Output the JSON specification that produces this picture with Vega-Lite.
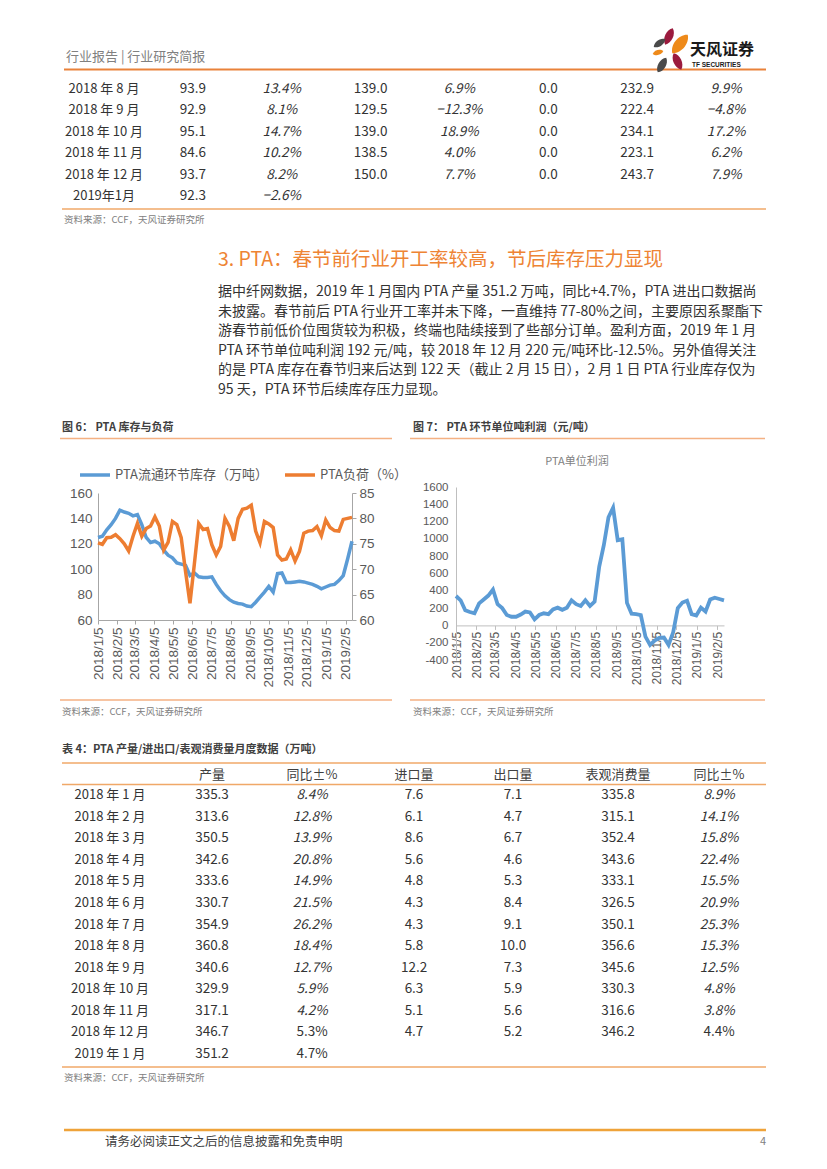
{
  "$schema": "https://vega.github.io/schema/vega-lite/v6.json",
  "padding": 0,
  "background": "white",
  "spacing": 0,
  "bounds": "flush",
  "config": {
    "view": {"stroke": null},
    "font": "Noto Sans CJK SC",
    "text": {"font": "Noto Sans CJK SC"}
  },
  "resolve": {"scale": {"color": "independent"}, "legend": {"color": "independent"}},
  "datasets": {
    "tableTop": [
      {"m": "2018 年 8 月", "v1": 93.9, "r1": 0.134, "v2": 139.0, "r2": 0.069, "v3": 0.0, "v4": 232.9, "r4": 0.099},
      {"m": "2018 年 9 月", "v1": 92.9, "r1": 0.081, "v2": 129.5, "r2": -0.123, "v3": 0.0, "v4": 222.4, "r4": -0.048},
      {"m": "2018 年 10 月", "v1": 95.1, "r1": 0.147, "v2": 139.0, "r2": 0.189, "v3": 0.0, "v4": 234.1, "r4": 0.172},
      {"m": "2018 年 11 月", "v1": 84.6, "r1": 0.102, "v2": 138.5, "r2": 0.040, "v3": 0.0, "v4": 223.1, "r4": 0.062},
      {"m": "2018 年 12 月", "v1": 93.7, "r1": 0.082, "v2": 150.0, "r2": 0.077, "v3": 0.0, "v4": 243.7, "r4": 0.079},
      {"m": "2019年1月", "v1": 92.3, "r1": -0.026}
    ],
    "table4": [
      {"m": "2018 年 1 月", "prod": 335.3, "prodYoy": 0.084, "imp": 7.6, "exp": 7.1, "cons": 335.8, "consYoy": 0.089},
      {"m": "2018 年 2 月", "prod": 313.6, "prodYoy": 0.128, "imp": 6.1, "exp": 4.7, "cons": 315.1, "consYoy": 0.141},
      {"m": "2018 年 3 月", "prod": 350.5, "prodYoy": 0.139, "imp": 8.6, "exp": 6.7, "cons": 352.4, "consYoy": 0.158},
      {"m": "2018 年 4 月", "prod": 342.6, "prodYoy": 0.208, "imp": 5.6, "exp": 4.6, "cons": 343.6, "consYoy": 0.224},
      {"m": "2018 年 5 月", "prod": 333.6, "prodYoy": 0.149, "imp": 4.8, "exp": 5.3, "cons": 333.1, "consYoy": 0.155},
      {"m": "2018 年 6 月", "prod": 330.7, "prodYoy": 0.215, "imp": 4.3, "exp": 8.4, "cons": 326.5, "consYoy": 0.209},
      {"m": "2018 年 7 月", "prod": 354.9, "prodYoy": 0.262, "imp": 4.3, "exp": 9.1, "cons": 350.1, "consYoy": 0.253},
      {"m": "2018 年 8 月", "prod": 360.8, "prodYoy": 0.184, "imp": 5.8, "exp": 10.0, "cons": 356.6, "consYoy": 0.153},
      {"m": "2018 年 9 月", "prod": 340.6, "prodYoy": 0.127, "imp": 12.2, "exp": 7.3, "cons": 345.6, "consYoy": 0.125},
      {"m": "2018 年 10 月", "prod": 329.9, "prodYoy": 0.059, "imp": 6.3, "exp": 5.9, "cons": 330.3, "consYoy": 0.048},
      {"m": "2018 年 11 月", "prod": 317.1, "prodYoy": 0.042, "imp": 5.1, "exp": 5.6, "cons": 316.6, "consYoy": 0.038},
      {"m": "2018 年 12 月", "prod": 346.7, "prodYoy": 0.053, "imp": 4.7, "exp": 5.2, "cons": 346.2, "consYoy": 0.044},
      {"m": "2019 年 1 月", "prod": 351.2, "prodYoy": 0.047}
    ],
    "pta6": [
      {"date": "2018/01/05", "inventory": 125, "load": 75.2},
      {"date": "2018/01/12", "inventory": 126, "load": 74.9},
      {"date": "2018/01/19", "inventory": 131, "load": 76.2},
      {"date": "2018/01/26", "inventory": 135, "load": 76.3},
      {"date": "2018/02/02", "inventory": 140, "load": 76.8},
      {"date": "2018/02/09", "inventory": 146.5, "load": 76.0},
      {"date": "2018/02/16", "inventory": 145, "load": 75.0},
      {"date": "2018/02/23", "inventory": 144, "load": 73.6},
      {"date": "2018/03/02", "inventory": 142, "load": 76.5},
      {"date": "2018/03/09", "inventory": 143, "load": 79.0},
      {"date": "2018/03/16", "inventory": 135, "load": 76.5},
      {"date": "2018/03/23", "inventory": 125, "load": 78.0},
      {"date": "2018/03/30", "inventory": 121, "load": 78.5},
      {"date": "2018/04/06", "inventory": 122, "load": 80.3},
      {"date": "2018/04/13", "inventory": 120, "load": 78.5},
      {"date": "2018/04/20", "inventory": 115, "load": 73.8},
      {"date": "2018/04/27", "inventory": 111, "load": 75.3},
      {"date": "2018/05/04", "inventory": 109, "load": 79.4},
      {"date": "2018/05/11", "inventory": 105, "load": 78.8},
      {"date": "2018/05/18", "inventory": 104, "load": 76.2},
      {"date": "2018/05/25", "inventory": 103, "load": 69.5},
      {"date": "2018/06/01", "inventory": 95, "load": 63.3},
      {"date": "2018/06/08", "inventory": 97, "load": 71.0},
      {"date": "2018/06/15", "inventory": 94, "load": 79.0},
      {"date": "2018/06/22", "inventory": 93.5, "load": 77.8},
      {"date": "2018/06/29", "inventory": 93.5, "load": 78.0},
      {"date": "2018/07/06", "inventory": 94, "load": 74.8},
      {"date": "2018/07/13", "inventory": 88, "load": 72.8},
      {"date": "2018/07/20", "inventory": 83, "load": 74.5},
      {"date": "2018/07/27", "inventory": 79, "load": 80.0},
      {"date": "2018/08/03", "inventory": 76, "load": 78.4},
      {"date": "2018/08/10", "inventory": 74, "load": 75.6},
      {"date": "2018/08/17", "inventory": 73, "load": 80.0},
      {"date": "2018/08/24", "inventory": 72.5, "load": 81.8},
      {"date": "2018/08/31", "inventory": 71, "load": 82.0},
      {"date": "2018/09/07", "inventory": 70.5, "load": 82.6},
      {"date": "2018/09/14", "inventory": 74, "load": 77.5},
      {"date": "2018/09/21", "inventory": 78, "load": 75.2},
      {"date": "2018/09/28", "inventory": 82, "load": 79.4},
      {"date": "2018/10/05", "inventory": 86.5, "load": 78.9},
      {"date": "2018/10/12", "inventory": 82, "load": 78.2},
      {"date": "2018/10/19", "inventory": 96.5, "load": 72.8},
      {"date": "2018/10/26", "inventory": 97, "load": 71.8},
      {"date": "2018/11/02", "inventory": 89.5, "load": 72.0},
      {"date": "2018/11/09", "inventory": 89.5, "load": 73.8},
      {"date": "2018/11/16", "inventory": 90, "load": 71.6},
      {"date": "2018/11/23", "inventory": 90.5, "load": 73.5},
      {"date": "2018/11/30", "inventory": 90, "load": 77.1},
      {"date": "2018/12/07", "inventory": 89, "load": 77.5},
      {"date": "2018/12/14", "inventory": 88, "load": 77.6},
      {"date": "2018/12/21", "inventory": 86.5, "load": 78.4},
      {"date": "2018/12/28", "inventory": 84.5, "load": 76.6},
      {"date": "2019/01/04", "inventory": 86, "load": 79.7},
      {"date": "2019/01/11", "inventory": 87.5, "load": 78.2},
      {"date": "2019/01/18", "inventory": 88, "load": 77.6},
      {"date": "2019/01/25", "inventory": 91, "load": 77.5},
      {"date": "2019/02/01", "inventory": 95, "load": 79.8},
      {"date": "2019/02/08", "inventory": 108, "load": 80.0},
      {"date": "2019/02/15", "inventory": 122, "load": 80.2}
    ],
    "pta7": [
      {"date": "2018/01/05", "profit": 340},
      {"date": "2018/01/12", "profit": 290},
      {"date": "2018/01/19", "profit": 175},
      {"date": "2018/01/26", "profit": 155},
      {"date": "2018/02/02", "profit": 140},
      {"date": "2018/02/09", "profit": 255},
      {"date": "2018/02/16", "profit": 300},
      {"date": "2018/02/23", "profit": 345},
      {"date": "2018/03/02", "profit": 415},
      {"date": "2018/03/09", "profit": 245},
      {"date": "2018/03/16", "profit": 200},
      {"date": "2018/03/23", "profit": 120},
      {"date": "2018/03/30", "profit": 100},
      {"date": "2018/04/06", "profit": 100},
      {"date": "2018/04/13", "profit": 125},
      {"date": "2018/04/20", "profit": 160},
      {"date": "2018/04/27", "profit": 150},
      {"date": "2018/05/04", "profit": 70},
      {"date": "2018/05/11", "profit": 120},
      {"date": "2018/05/18", "profit": 140},
      {"date": "2018/05/25", "profit": 130},
      {"date": "2018/06/01", "profit": 185},
      {"date": "2018/06/08", "profit": 205},
      {"date": "2018/06/15", "profit": 180},
      {"date": "2018/06/22", "profit": 205},
      {"date": "2018/06/29", "profit": 290},
      {"date": "2018/07/06", "profit": 245},
      {"date": "2018/07/13", "profit": 225},
      {"date": "2018/07/20", "profit": 290},
      {"date": "2018/07/27", "profit": 225},
      {"date": "2018/08/03", "profit": 275},
      {"date": "2018/08/10", "profit": 680},
      {"date": "2018/08/17", "profit": 930},
      {"date": "2018/08/24", "profit": 1250},
      {"date": "2018/08/31", "profit": 1360},
      {"date": "2018/09/07", "profit": 985},
      {"date": "2018/09/14", "profit": 995},
      {"date": "2018/09/21", "profit": 260},
      {"date": "2018/09/28", "profit": 135},
      {"date": "2018/10/05", "profit": 130},
      {"date": "2018/10/12", "profit": 120},
      {"date": "2018/10/19", "profit": -130},
      {"date": "2018/10/26", "profit": -225},
      {"date": "2018/11/02", "profit": -175},
      {"date": "2018/11/09", "profit": -145},
      {"date": "2018/11/16", "profit": -140},
      {"date": "2018/11/23", "profit": -225},
      {"date": "2018/11/30", "profit": -80},
      {"date": "2018/12/07", "profit": 200},
      {"date": "2018/12/14", "profit": 265},
      {"date": "2018/12/21", "profit": 285},
      {"date": "2018/12/28", "profit": 130},
      {"date": "2019/01/04", "profit": 115},
      {"date": "2019/01/11", "profit": 205},
      {"date": "2019/01/18", "profit": 160},
      {"date": "2019/01/25", "profit": 300},
      {"date": "2019/02/01", "profit": 320},
      {"date": "2019/02/08", "profit": 305},
      {"date": "2019/02/15", "profit": 290}
    ]
  },
  "vconcat": [
    {
      "width": 827,
      "height": 75,
      "layer": [
        {"data": {"values": [{"t": "行业报告  |  行业研究简报"}]}, "mark": {"type": "text", "align": "left", "baseline": "middle", "fontSize": 13, "color": "#808080"}, "encoding": {"text": {"field": "t"}, "x": {"value": 66}, "y": {"value": 57}}},
        {"data": {"values": [{}]}, "mark": {"type": "rule", "color": "#E9823A", "strokeWidth": 2}, "encoding": {"x": {"value": 64}, "x2": {"value": 766}, "y": {"value": 69.5}}},
        {"data": {"values": [{}]}, "mark": {"type": "point", "shape": "M0,-1C0.6,-0.55 0.6,0.55 0,1C-0.6,0.55 -0.6,-0.55 0,-1Z", "filled": true, "opacity": 1, "color": "#9B1B3E", "size": 324, "angle": 25}, "encoding": {"x": {"value": 669}, "y": {"value": 36.5}}},
        {"data": {"values": [{}]}, "mark": {"type": "point", "shape": "M0,-1C0.6,-0.55 0.6,0.55 0,1C-0.6,0.55 -0.6,-0.55 0,-1Z", "filled": true, "opacity": 1, "color": "#EE8A1A", "size": 576, "angle": 40}, "encoding": {"x": {"value": 680}, "y": {"value": 44}}},
        {"data": {"values": [{}]}, "mark": {"type": "point", "shape": "M0,-1C0.6,-0.55 0.6,0.55 0,1C-0.6,0.55 -0.6,-0.55 0,-1Z", "filled": true, "opacity": 1, "color": "#4A4A4A", "size": 196, "angle": 55}, "encoding": {"x": {"value": 659.5}, "y": {"value": 43}}},
        {"data": {"values": [{}]}, "mark": {"type": "point", "shape": "M0,-1C0.6,-0.55 0.6,0.55 0,1C-0.6,0.55 -0.6,-0.55 0,-1Z", "filled": true, "opacity": 1, "color": "#EE8A1A", "size": 121, "angle": 75}, "encoding": {"x": {"value": 658}, "y": {"value": 52.5}}},
        {"data": {"values": [{}]}, "mark": {"type": "point", "shape": "M0,-1C0.6,-0.55 0.6,0.55 0,1C-0.6,0.55 -0.6,-0.55 0,-1Z", "filled": true, "opacity": 1, "color": "#9B1B3E", "size": 324, "angle": -25}, "encoding": {"x": {"value": 677.5}, "y": {"value": 61.5}}},
        {"data": {"values": [{}]}, "mark": {"type": "point", "shape": "M0,-1C0.6,-0.55 0.6,0.55 0,1C-0.6,0.55 -0.6,-0.55 0,-1Z", "filled": true, "opacity": 1, "color": "#4A4A4A", "size": 289, "angle": 30}, "encoding": {"x": {"value": 662}, "y": {"value": 65}}},
        {"data": {"values": [{"t": "天风证券"}]}, "mark": {"type": "text", "align": "left", "baseline": "middle", "fontSize": 16, "fontWeight": "bold", "color": "#1A1A1A"}, "encoding": {"text": {"field": "t"}, "x": {"value": 690}, "y": {"value": 50}}},
        {"data": {"values": [{"t": "TF SECURITIES"}]}, "mark": {"type": "text", "align": "left", "baseline": "middle", "fontSize": 6.5, "fontWeight": "bold", "color": "#1A1A1A", "font": "Liberation Sans Narrow, Liberation Sans"}, "encoding": {"text": {"field": "t"}, "x": {"value": 692}, "y": {"value": 64.5}}}
      ]
    },
    {
      "width": 827,
      "height": 155,
      "data": {"name": "tableTop"},
      "layer": [
        {"mark": {"type": "text", "baseline": "middle", "fontSize": 13, "color": "#333333", "font": "Liberation Sans Narrow, Noto Sans CJK SC"}, "encoding": {"text": {"field": "m"}, "x": {"datum": 0, "type": "quantitative", "scale": {"domain": [0, 7], "range": [104, 726], "zero": false, "nice": false}, "axis": null}, "y": {"field": "m", "type": "ordinal", "scale": {"type": "point", "domain": ["2018 年 8 月", "2018 年 9 月", "2018 年 10 月", "2018 年 11 月", "2018 年 12 月", "2019年1月"], "range": [13.5, 121], "padding": 0}, "axis": null}}},
        {"transform": [{"filter": "isValid(datum.v1)"}], "mark": {"type": "text", "baseline": "middle", "fontSize": 13.5, "color": "#333333", "font": "Liberation Sans Narrow, Noto Sans CJK SC"}, "encoding": {"text": {"field": "v1", "type": "quantitative", "format": ".1f"}, "x": {"datum": 1, "type": "quantitative"}, "y": {"field": "m", "type": "ordinal"}}},
        {"transform": [{"filter": "isValid(datum.r1)"}], "mark": {"type": "text", "baseline": "middle", "fontSize": 13.5, "fontStyle": "italic", "color": "#333333", "font": "Liberation Sans Narrow, Noto Sans CJK SC"}, "encoding": {"text": {"field": "r1", "type": "quantitative", "format": ".1%"}, "x": {"datum": 2, "type": "quantitative"}, "y": {"field": "m", "type": "ordinal"}}},
        {"transform": [{"filter": "isValid(datum.v2)"}], "mark": {"type": "text", "baseline": "middle", "fontSize": 13.5, "color": "#333333", "font": "Liberation Sans Narrow, Noto Sans CJK SC"}, "encoding": {"text": {"field": "v2", "type": "quantitative", "format": ".1f"}, "x": {"datum": 3, "type": "quantitative"}, "y": {"field": "m", "type": "ordinal"}}},
        {"transform": [{"filter": "isValid(datum.r2)"}], "mark": {"type": "text", "baseline": "middle", "fontSize": 13.5, "fontStyle": "italic", "color": "#333333", "font": "Liberation Sans Narrow, Noto Sans CJK SC"}, "encoding": {"text": {"field": "r2", "type": "quantitative", "format": ".1%"}, "x": {"datum": 4, "type": "quantitative"}, "y": {"field": "m", "type": "ordinal"}}},
        {"transform": [{"filter": "isValid(datum.v3)"}], "mark": {"type": "text", "baseline": "middle", "fontSize": 13.5, "color": "#333333", "font": "Liberation Sans Narrow, Noto Sans CJK SC"}, "encoding": {"text": {"field": "v3", "type": "quantitative", "format": ".1f"}, "x": {"datum": 5, "type": "quantitative"}, "y": {"field": "m", "type": "ordinal"}}},
        {"transform": [{"filter": "isValid(datum.v4)"}], "mark": {"type": "text", "baseline": "middle", "fontSize": 13.5, "color": "#333333", "font": "Liberation Sans Narrow, Noto Sans CJK SC"}, "encoding": {"text": {"field": "v4", "type": "quantitative", "format": ".1f"}, "x": {"datum": 6, "type": "quantitative"}, "y": {"field": "m", "type": "ordinal"}}},
        {"transform": [{"filter": "isValid(datum.r4)"}], "mark": {"type": "text", "baseline": "middle", "fontSize": 13.5, "fontStyle": "italic", "color": "#333333", "font": "Liberation Sans Narrow, Noto Sans CJK SC"}, "encoding": {"text": {"field": "r4", "type": "quantitative", "format": ".1%"}, "x": {"datum": 7, "type": "quantitative"}, "y": {"field": "m", "type": "ordinal"}}},
        {"data": {"values": [{}]}, "mark": {"type": "rule", "color": "#F0A868", "strokeWidth": 1.5}, "encoding": {"x": {"value": 62}, "x2": {"value": 766}, "y": {"value": 134}}},
        {"data": {"values": [{"t": "资料来源：CCF，天风证券研究所"}]}, "mark": {"type": "text", "align": "left", "baseline": "middle", "fontSize": 9.5, "color": "#808080"}, "encoding": {"text": {"field": "t"}, "x": {"value": 64}, "y": {"value": 145}}}
      ]
    },
    {
      "width": 827,
      "height": 180,
      "layer": [
        {"data": {"values": [{"t": "3. PTA：春节前行业开工率较高，节后库存压力显现"}]}, "mark": {"type": "text", "align": "left", "baseline": "middle", "fontSize": 19.5, "color": "#EE8434"}, "encoding": {"text": {"field": "t"}, "x": {"value": 218}, "y": {"value": 30}}},
        {"data": {"values": [
          {"t": "据中纤网数据，2019 年 1 月国内 PTA 产量 351.2 万吨，同比+4.7%，PTA 进出口数据尚"},
          {"t": "未披露。春节前后 PTA 行业开工率并未下降，一直维持 77-80%之间，主要原因系聚酯下"},
          {"t": "游春节前低价位囤货较为积极，终端也陆续接到了些部分订单。盈利方面，2019 年 1 月"},
          {"t": "PTA 环节单位吨利润 192 元/吨，较 2018 年 12 月 220 元/吨环比-12.5%。另外值得关注"},
          {"t": "的是 PTA 库存在春节归来后达到 122 天（截止 2 月 15 日），2 月 1 日 PTA 行业库存仅为"},
          {"t": "95 天，PTA 环节后续库存压力显现。"}
        ]}, "mark": {"type": "text", "align": "left", "baseline": "middle", "fontSize": 14, "color": "#333333"}, "encoding": {"text": {"field": "t"}, "x": {"value": 218}, "y": {"field": "t", "type": "ordinal", "sort": null, "scale": {"type": "point", "range": [62, 160], "padding": 0}, "axis": null}}}
      ]
    },
    {
      "width": 827,
      "height": 310,
      "resolve": {"scale": {"x": "independent", "y": "independent"}},
      "layer": [
        {"data": {"values": [{"t": "图 6：  PTA 库存与负荷"}]}, "mark": {"type": "text", "align": "left", "baseline": "middle", "fontSize": 11, "fontWeight": "bold", "color": "#404040"}, "encoding": {"text": {"field": "t"}, "x": {"value": 62}, "y": {"value": 18}}},
        {"data": {"values": [{}]}, "mark": {"type": "rule", "color": "#F4B183", "strokeWidth": 1.5}, "encoding": {"x": {"value": 60}, "x2": {"value": 392}, "y": {"value": 28.5}}},
        {
          "data": {"name": "pta6"},
          "mark": {"type": "line", "strokeWidth": 3.5},
          "encoding": {
            "x": {"field": "date", "type": "temporal", "scale": {"domain": [{"year": 2018, "month": 1, "date": 5}, {"year": 2019, "month": 2, "date": 15}], "range": [98, 352]}, "axis": {"orient": "bottom", "values": [{"year": 2018, "month": 1, "date": 5}, {"year": 2018, "month": 2, "date": 5}, {"year": 2018, "month": 3, "date": 5}, {"year": 2018, "month": 4, "date": 5}, {"year": 2018, "month": 5, "date": 5}, {"year": 2018, "month": 6, "date": 5}, {"year": 2018, "month": 7, "date": 5}, {"year": 2018, "month": 8, "date": 5}, {"year": 2018, "month": 9, "date": 5}, {"year": 2018, "month": 10, "date": 5}, {"year": 2018, "month": 11, "date": 5}, {"year": 2018, "month": 12, "date": 5}, {"year": 2019, "month": 1, "date": 5}, {"year": 2019, "month": 2, "date": 5}], "format": "%Y/%-m/%-d", "labelAngle": -90, "offset": -100, "title": null, "grid": false, "domainColor": "#a6a6a6", "tickColor": "#a6a6a6", "tickSize": 4, "labelColor": "#595959", "labelFontSize": 13.5, "labelFont": "Liberation Sans", "labelPadding": 3, "labelOverlap": false, "labelFlush": false, "labelBound": false}},
            "y": {"field": "inventory", "type": "quantitative", "scale": {"domain": [60, 160], "range": [210, 83], "zero": false, "nice": false}, "axis": {"orient": "left", "offset": -98, "values": [60, 80, 100, 120, 140, 160], "title": null, "grid": false, "ticks": false, "domainColor": "#a6a6a6", "labelColor": "#595959", "labelFontSize": 13.5, "labelFont": "Liberation Sans Narrow, Liberation Sans", "labelPadding": 6}},
            "color": {"datum": "PTA流通环节库存（万吨）", "type": "nominal", "scale": {"domain": ["PTA流通环节库存（万吨）", "PTA负荷（%）"], "range": ["#5B9BD5", "#ED7D31"]}, "legend": {"orient": "none", "legendX": 78, "legendY": 48, "direction": "horizontal", "title": null, "symbolType": "stroke", "symbolStrokeWidth": 3.5, "symbolSize": 900, "labelFontSize": 13, "labelColor": "#595959", "labelFont": "Noto Sans CJK SC", "columnPadding": 10, "labelOffset": 3}}
          }
        },
        {
          "data": {"name": "pta6"},
          "mark": {"type": "line", "strokeWidth": 3.5},
          "encoding": {
            "x": {"field": "date", "type": "temporal", "scale": {"domain": [{"year": 2018, "month": 1, "date": 5}, {"year": 2019, "month": 2, "date": 15}], "range": [98, 352]}, "axis": null},
            "y": {"field": "load", "type": "quantitative", "scale": {"domain": [60, 85], "range": [210, 83], "zero": false, "nice": false}, "axis": {"orient": "right", "offset": -475, "values": [60, 65, 70, 75, 80, 85], "title": null, "grid": false, "ticks": true, "tickSize": 4, "tickColor": "#a6a6a6", "domainColor": "#a6a6a6", "labelColor": "#595959", "labelFontSize": 13.5, "labelFont": "Liberation Sans Narrow, Liberation Sans", "labelPadding": 3}},
            "color": {"datum": "PTA负荷（%）", "type": "nominal"}
          }
        },
        {"data": {"values": [{}]}, "mark": {"type": "rule", "color": "#F4B183", "strokeWidth": 1.5}, "encoding": {"x": {"value": 60}, "x2": {"value": 392}, "y": {"value": 290}}},
        {"data": {"values": [{"t": "资料来源：CCF，天风证券研究所"}]}, "mark": {"type": "text", "align": "left", "baseline": "middle", "fontSize": 9.5, "color": "#808080"}, "encoding": {"text": {"field": "t"}, "x": {"value": 62}, "y": {"value": 302}}},
        {"data": {"values": [{"t": "图 7：  PTA 环节单位吨利润（元/吨）"}]}, "mark": {"type": "text", "align": "left", "baseline": "middle", "fontSize": 11, "fontWeight": "bold", "color": "#404040"}, "encoding": {"text": {"field": "t"}, "x": {"value": 413}, "y": {"value": 18}}},
        {"data": {"values": [{}]}, "mark": {"type": "rule", "color": "#F4B183", "strokeWidth": 1.5}, "encoding": {"x": {"value": 410}, "x2": {"value": 765}, "y": {"value": 28.5}}},
        {"data": {"values": [{"t": "PTA单位利润"}]}, "mark": {"type": "text", "align": "center", "baseline": "middle", "fontSize": 11, "color": "#7F7F7F"}, "encoding": {"text": {"field": "t"}, "x": {"value": 577}, "y": {"value": 52}}},
        {
          "data": {"name": "pta7"},
          "mark": {"type": "line", "strokeWidth": 3.8, "color": "#5B9BD5"},
          "encoding": {
            "x": {"field": "date", "type": "temporal", "scale": {"domain": [{"year": 2018, "month": 1, "date": 5}, {"year": 2019, "month": 2, "date": 15}], "range": [456, 724]}, "axis": {"orient": "bottom", "values": [{"year": 2018, "month": 1, "date": 5}, {"year": 2018, "month": 2, "date": 5}, {"year": 2018, "month": 3, "date": 5}, {"year": 2018, "month": 4, "date": 5}, {"year": 2018, "month": 5, "date": 5}, {"year": 2018, "month": 6, "date": 5}, {"year": 2018, "month": 7, "date": 5}, {"year": 2018, "month": 8, "date": 5}, {"year": 2018, "month": 9, "date": 5}, {"year": 2018, "month": 10, "date": 5}, {"year": 2018, "month": 11, "date": 5}, {"year": 2018, "month": 12, "date": 5}, {"year": 2019, "month": 1, "date": 5}, {"year": 2019, "month": 2, "date": 5}], "format": "%Y/%-m/%-d", "labelAngle": -90, "offset": -94.6, "title": null, "grid": false, "domainColor": "#bfbfbf", "tickColor": "#bfbfbf", "tickSize": 4, "labelColor": "#595959", "labelFontSize": 12, "labelFont": "Liberation Sans", "labelPadding": 2, "labelOverlap": false, "labelFlush": false, "labelBound": false}},
            "y": {"field": "profit", "type": "quantitative", "scale": {"domain": [-400, 1600], "range": [250, 77], "zero": false, "nice": false}, "axis": {"orient": "left", "offset": -456, "values": [-400, -200, 0, 200, 400, 600, 800, 1000, 1200, 1400, 1600], "format": "d", "labelExpr": "replace(datum.label, '−', '-')", "title": null, "grid": false, "ticks": false, "domainColor": "#bfbfbf", "labelColor": "#595959", "labelFontSize": 11.5, "labelFont": "Liberation Sans", "labelPadding": 8}}
          }
        },
        {"data": {"values": [{}]}, "mark": {"type": "rule", "color": "#F4B183", "strokeWidth": 1.5}, "encoding": {"x": {"value": 410}, "x2": {"value": 765}, "y": {"value": 290}}},
        {"data": {"values": [{"t": "资料来源：CCF，天风证券研究所"}]}, "mark": {"type": "text", "align": "left", "baseline": "middle", "fontSize": 9.5, "color": "#808080"}, "encoding": {"text": {"field": "t"}, "x": {"value": 413}, "y": {"value": 302}}}
      ]
    },
    {
      "width": 827,
      "height": 370,
      "data": {"name": "table4"},
      "layer": [
        {"data": {"values": [{"t": "表 4：PTA 产量/进出口/表观消费量月度数据（万吨）"}]}, "mark": {"type": "text", "align": "left", "baseline": "middle", "fontSize": 11, "fontWeight": "bold", "color": "#404040"}, "encoding": {"text": {"field": "t"}, "x": {"value": 62}, "y": {"value": 30}}},
        {"data": {"values": [{}]}, "mark": {"type": "rule", "color": "#F0A868", "strokeWidth": 1.5}, "encoding": {"x": {"value": 62}, "x2": {"value": 766}, "y": {"value": 43}}},
        {"data": {"values": [{"h": "产量", "k": 1}, {"h": "同比±%", "k": 2}, {"h": "进口量", "k": 3}, {"h": "出口量", "k": 4}, {"h": "表观消费量", "k": 5}, {"h": "同比±%", "k": 6}]}, "mark": {"type": "text", "baseline": "middle", "fontSize": 13, "color": "#404040"}, "encoding": {"text": {"field": "h"}, "x": {"field": "k", "type": "quantitative", "scale": {"domain": [0, 1, 2, 3, 4, 5, 6], "range": [110, 212, 312, 414, 513, 618, 719], "zero": false, "nice": false}, "axis": null}, "y": {"value": 55}}},
        {"data": {"values": [{}]}, "mark": {"type": "rule", "color": "#F0A868", "strokeWidth": 1.5}, "encoding": {"x": {"value": 62}, "x2": {"value": 766}, "y": {"value": 64.5}}},
        {"mark": {"type": "text", "baseline": "middle", "fontSize": 13, "color": "#333333", "font": "Liberation Sans Narrow, Noto Sans CJK SC"}, "encoding": {"text": {"field": "m"}, "x": {"datum": 0, "type": "quantitative"}, "y": {"field": "m", "type": "ordinal", "scale": {"type": "point", "domain": ["2018 年 1 月", "2018 年 2 月", "2018 年 3 月", "2018 年 4 月", "2018 年 5 月", "2018 年 6 月", "2018 年 7 月", "2018 年 8 月", "2018 年 9 月", "2018 年 10 月", "2018 年 11 月", "2018 年 12 月", "2019 年 1 月"], "range": [75, 334], "padding": 0}, "axis": null}}},
        {"transform": [{"filter": "isValid(datum.prod)"}], "mark": {"type": "text", "baseline": "middle", "fontSize": 13.5, "color": "#333333", "font": "Liberation Sans Narrow, Noto Sans CJK SC"}, "encoding": {"text": {"field": "prod", "type": "quantitative", "format": ".1f"}, "x": {"datum": 1, "type": "quantitative"}, "y": {"field": "m", "type": "ordinal"}}},
        {"transform": [{"filter": "isValid(datum.prodYoy) && datum.m != '2018 年 12 月' && datum.m != '2019 年 1 月'"}], "mark": {"type": "text", "baseline": "middle", "fontSize": 13.5, "fontStyle": "italic", "color": "#333333", "font": "Liberation Sans Narrow, Noto Sans CJK SC"}, "encoding": {"text": {"field": "prodYoy", "type": "quantitative", "format": ".1%"}, "x": {"datum": 2, "type": "quantitative"}, "y": {"field": "m", "type": "ordinal"}}},
        {"transform": [{"filter": "isValid(datum.prodYoy) && (datum.m == '2018 年 12 月' || datum.m == '2019 年 1 月')"}], "mark": {"type": "text", "baseline": "middle", "fontSize": 13.5, "color": "#333333", "font": "Liberation Sans Narrow, Noto Sans CJK SC"}, "encoding": {"text": {"field": "prodYoy", "type": "quantitative", "format": ".1%"}, "x": {"datum": 2, "type": "quantitative"}, "y": {"field": "m", "type": "ordinal"}}},
        {"transform": [{"filter": "isValid(datum.imp)"}], "mark": {"type": "text", "baseline": "middle", "fontSize": 13.5, "color": "#333333", "font": "Liberation Sans Narrow, Noto Sans CJK SC"}, "encoding": {"text": {"field": "imp", "type": "quantitative", "format": ".1f"}, "x": {"datum": 3, "type": "quantitative"}, "y": {"field": "m", "type": "ordinal"}}},
        {"transform": [{"filter": "isValid(datum.exp)"}], "mark": {"type": "text", "baseline": "middle", "fontSize": 13.5, "color": "#333333", "font": "Liberation Sans Narrow, Noto Sans CJK SC"}, "encoding": {"text": {"field": "exp", "type": "quantitative", "format": ".1f"}, "x": {"datum": 4, "type": "quantitative"}, "y": {"field": "m", "type": "ordinal"}}},
        {"transform": [{"filter": "isValid(datum.cons)"}], "mark": {"type": "text", "baseline": "middle", "fontSize": 13.5, "color": "#333333", "font": "Liberation Sans Narrow, Noto Sans CJK SC"}, "encoding": {"text": {"field": "cons", "type": "quantitative", "format": ".1f"}, "x": {"datum": 5, "type": "quantitative"}, "y": {"field": "m", "type": "ordinal"}}},
        {"transform": [{"filter": "isValid(datum.consYoy) && datum.m != '2018 年 12 月'"}], "mark": {"type": "text", "baseline": "middle", "fontSize": 13.5, "fontStyle": "italic", "color": "#333333", "font": "Liberation Sans Narrow, Noto Sans CJK SC"}, "encoding": {"text": {"field": "consYoy", "type": "quantitative", "format": ".1%"}, "x": {"datum": 6, "type": "quantitative"}, "y": {"field": "m", "type": "ordinal"}}},
        {"transform": [{"filter": "isValid(datum.consYoy) && datum.m == '2018 年 12 月'"}], "mark": {"type": "text", "baseline": "middle", "fontSize": 13.5, "color": "#333333", "font": "Liberation Sans Narrow, Noto Sans CJK SC"}, "encoding": {"text": {"field": "consYoy", "type": "quantitative", "format": ".1%"}, "x": {"datum": 6, "type": "quantitative"}, "y": {"field": "m", "type": "ordinal"}}},
        {"data": {"values": [{}]}, "mark": {"type": "rule", "color": "#F0A868", "strokeWidth": 1.5}, "encoding": {"x": {"value": 62}, "x2": {"value": 766}, "y": {"value": 347}}},
        {"data": {"values": [{"t": "资料来源：CCF，天风证券研究所"}]}, "mark": {"type": "text", "align": "left", "baseline": "middle", "fontSize": 9.5, "color": "#808080"}, "encoding": {"text": {"field": "t"}, "x": {"value": 64}, "y": {"value": 358}}}
      ]
    },
    {
      "width": 827,
      "height": 79,
      "layer": [
        {"data": {"values": [{}]}, "mark": {"type": "rule", "color": "#EFA33A", "strokeWidth": 2.5}, "encoding": {"x": {"value": 64}, "x2": {"value": 766}, "y": {"value": 40}}},
        {"data": {"values": [{"t": "请务必阅读正文之后的信息披露和免责申明"}]}, "mark": {"type": "text", "align": "left", "baseline": "middle", "fontSize": 12.5, "color": "#404040"}, "encoding": {"text": {"field": "t"}, "x": {"value": 105}, "y": {"value": 52}}},
        {"data": {"values": [{"t": "4"}]}, "mark": {"type": "text", "align": "right", "baseline": "middle", "fontSize": 11, "color": "#808080"}, "encoding": {"text": {"field": "t"}, "x": {"value": 766}, "y": {"value": 52}}}
      ]
    }
  ]
}
